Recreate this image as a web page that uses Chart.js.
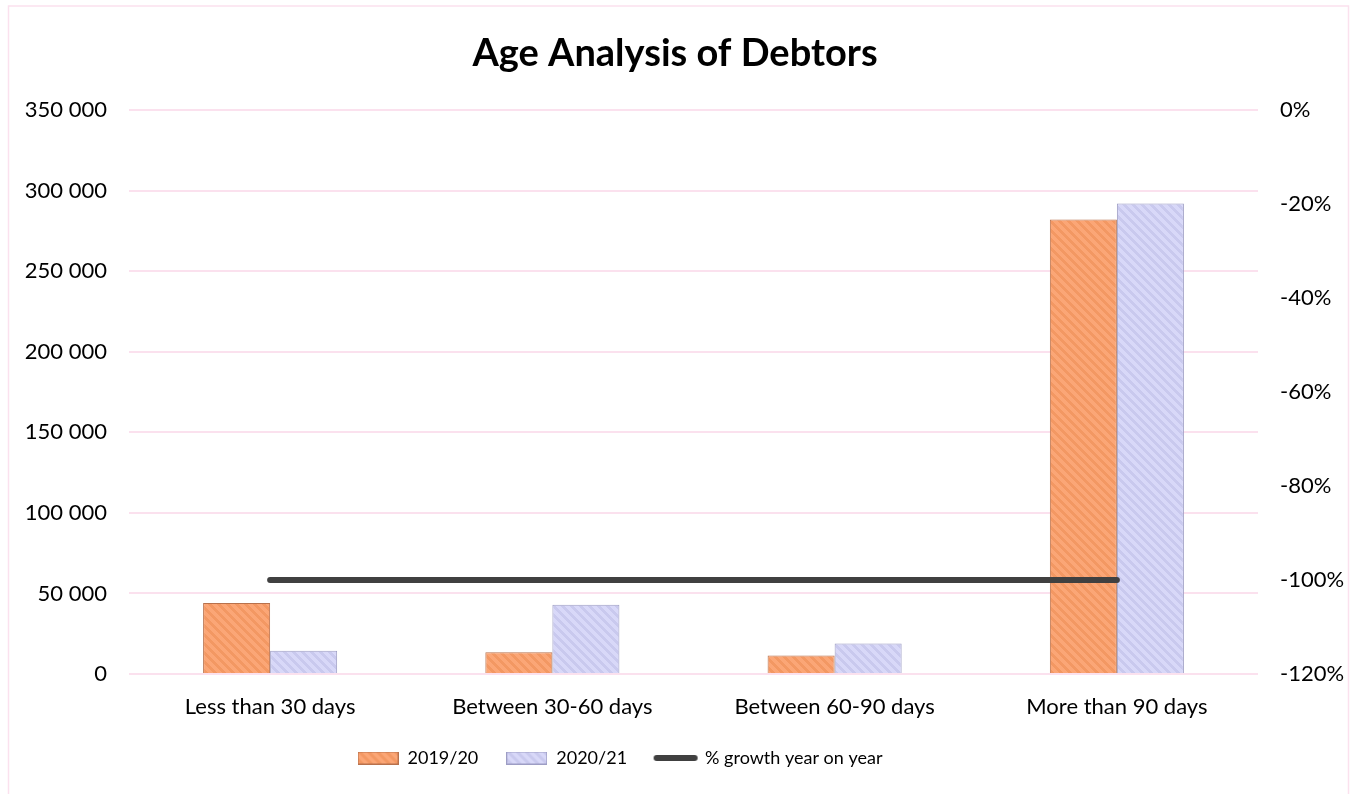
<!DOCTYPE html>
<html>
<head>
<meta charset="utf-8">
<script src="https://cdn.jsdelivr.net/npm/chart.js@4"></script>
<style>
  html, body { margin: 0; padding: 0; background: #ffffff; }
  #wrap { width: 1350px; height: 794px; position: relative; }
</style>
</head>
<body>
<div id="wrap"><canvas id="chart" width="1350" height="794"></canvas></div>
<script>
// Debtor balances by age bucket
const categories = ['Less than 30 days', 'Between 30-60 days', 'Between 60-90 days', 'More than 90 days'];
const debtors2019 = [44000, 13500, 11500, 282000];
const debtors2020 = [14500, 43000, 19000, 292000];
const growthPct = [-1, -1, -1, -1];
const seriesNames = ['2019/20', '2020/21', '% growth year on year'];
const leftTicks = [0, 50000, 100000, 150000, 200000, 250000, 300000, 350000];
const rightTicks = [-1.2, -1.0, -0.8, -0.6, -0.4, -0.2, 0];

const FONT = 'Lato, "Open Sans", sans-serif';
const GRID = '#FBE1EE';

// diagonal hatch fill for the bars
function hatch(base, stripe, size, w) {
  const c = document.createElement('canvas');
  c.width = size; c.height = size;
  const ctx = c.getContext('2d');
  ctx.fillStyle = base;
  ctx.fillRect(0, 0, size, size);
  ctx.fillStyle = stripe;
  for (let y = 0; y < size; y++) {
    for (let x = 0; x < size; x++) {
      const d = ((x - y) % size + size) % size;
      if (d < w) ctx.fillRect(x, y, 1, 1);
    }
  }
  return c;
}
const ctx0 = document.getElementById('chart').getContext('2d');
const orangeTile = hatch('#FBA676', '#F39863', 9, 4);
const blueTile = hatch('#D8D8F8', '#C9C9EE', 9, 4);
const orangeFill = ctx0.createPattern(orangeTile, 'repeat');
const blueFill = ctx0.createPattern(blueTile, 'repeat');
const orangeEdge = '#B8714C';
const blueEdge = '#9D9DC4';

// legend swatches
function swatch(tile, border) {
  const c = document.createElement('canvas');
  c.width = 41; c.height = 13;
  const g = c.getContext('2d');
  g.fillStyle = g.createPattern(tile, 'repeat');
  g.fillRect(0, 0, 41, 13);
  g.strokeStyle = border; g.lineWidth = 1;
  g.strokeRect(0.5, 0.5, 40, 12);
  return c;
}
function lineSwatch() {
  const c = document.createElement('canvas');
  c.width = 46; c.height = 8;
  const g = c.getContext('2d');
  g.strokeStyle = '#404040'; g.lineWidth = 6; g.lineCap = 'round';
  g.beginPath(); g.moveTo(4, 4); g.lineTo(42, 4); g.stroke();
  return c;
}
const swatches = [swatch(orangeTile, orangeEdge), swatch(blueTile, blueEdge), lineSwatch()];

const frame = {
  id: 'frame',
  beforeDraw(chart) {
    const c = chart.ctx;
    c.save();
    c.fillStyle = '#ffffff';
    c.fillRect(0, 0, chart.width, chart.height);
    c.strokeStyle = GRID;
    c.lineWidth = 1.5;
    c.strokeRect(8.5, 6, 1340, 820);
    c.restore();
  },
  afterLayout(chart) {
    // legend row sits a little left of the page centre
    if (chart.legend) {
      chart.legend.left -= 55;
      chart.legend.right -= 55;
    }
  }
};

new Chart(ctx0, {
  type: 'bar',
  data: {
    labels: categories,
    datasets: [
      {
        type: 'line',
        label: seriesNames[2],
        data: growthPct,
        yAxisID: 'y1',
        borderColor: '#404040',
        backgroundColor: '#404040',
        borderWidth: 6,
        borderCapStyle: 'round',
        pointRadius: 0,
        pointHoverRadius: 0,
        fill: false,
        tension: 0,
        pointStyle: swatches[2]
      },
      {
        label: seriesNames[0],
        data: debtors2019,
        yAxisID: 'y',
        backgroundColor: orangeFill,
        borderColor: orangeEdge,
        borderWidth: 1,
        pointStyle: swatches[0],
        categoryPercentage: 0.475,
        barPercentage: 1.0
      },
      {
        label: seriesNames[1],
        data: debtors2020,
        yAxisID: 'y',
        backgroundColor: blueFill,
        borderColor: blueEdge,
        borderWidth: 1,
        pointStyle: swatches[1],
        categoryPercentage: 0.475,
        barPercentage: 1.0
      }
    ]
  },
  options: {
    responsive: false,
    animation: false,
    devicePixelRatio: 1,
    layout: { padding: { left: 0, right: 0, top: 0, bottom: 17 } },
    plugins: {
      title: {
        display: true,
        text: 'Age Analysis of Debtors',
        color: '#000000',
        font: { family: FONT, size: 38, weight: 'bold' },
        padding: { top: 31, bottom: 33.4 }
      },
      legend: {
        position: 'bottom',
        labels: {
          usePointStyle: true,
          pointStyleWidth: 41,
          color: '#000000',
          font: { family: FONT, size: 18 },
          padding: 28,
          sort: (a, b) => {
            const rank = [2, 0, 1];
            return rank[a.datasetIndex] - rank[b.datasetIndex];
          }
        }
      },
      tooltip: { enabled: false }
    },
    scales: {
      x: {
        grid: { display: false },
        border: { display: false },
        ticks: { color: '#000000', font: { family: FONT, size: 22 }, padding: 12, maxRotation: 0 },
        afterFit(s) { s.height = 47; }
      },
      y: {
        position: 'left',
        min: 0,
        max: 350000,
        afterBuildTicks(s) { s.ticks = leftTicks.map(v => ({ value: v })); },
        grid: { color: GRID, lineWidth: 2, drawTicks: false },
        border: { display: false },
        ticks: {
          color: '#000000',
          font: { family: FONT, size: 22 },
          padding: 22,
          callback: v => v === 0 ? '0' : String(v).replace(/\B(?=(\d{3})+(?!\d))/g, ' ')
        },
        afterFit(s) { s.width = 129; }
      },
      y1: {
        position: 'right',
        min: -1.2,
        max: 0,
        afterBuildTicks(s) { s.ticks = rightTicks.map(v => ({ value: v })); },
        grid: { display: false, drawTicks: false },
        border: { display: false },
        ticks: {
          color: '#000000',
          font: { family: FONT, size: 22 },
          padding: 22,
          callback: v => Math.round(v * 100) + '%'
        },
        afterFit(s) { s.width = 92; }
      }
    }
  },
  plugins: [frame]
});
</script>
</body>
</html>
